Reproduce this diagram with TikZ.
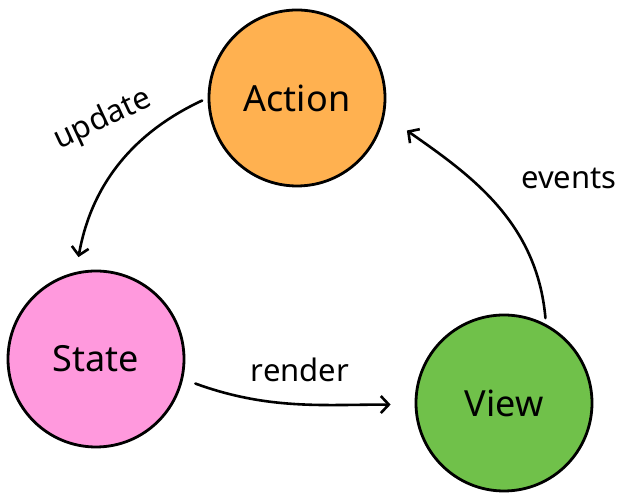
\documentclass[tikz,border=0pt]{standalone}
\usepackage{fontspec}
\setmainfont{Noto Sans}
\usetikzlibrary{arrows.meta}

\begin{document}
\begin{tikzpicture}[x=1pt,y=1pt,
  kreis/.style={circle,draw=black,line width=2.8pt,minimum size=176pt,inner sep=0pt,font=\fontsize{36}{42}\selectfont},
  pfeil/.style={->,line width=2.6pt,line cap=round},
  beschr/.style={font=\fontsize{31}{37}\selectfont},
  >={Straight Barb[length=8pt,width=17pt]}]

\useasboundingbox (0,0) rectangle (630,500);

%Kreise
\node[kreis,fill={rgb,255:red,255;green,177;blue,80}] (action) at (297,402) {Action};
\node[kreis,fill={rgb,255:red,255;green,153;blue,221}] (state) at (96,141) {State};
\node[kreis,fill={rgb,255:red,112;green,193;blue,74}] (view) at (504,97) {View};

%Pfeile
\draw[pfeil,shorten <=6pt,shorten >=15pt] (action.180) to[out=205,in=80] (state.103);
\draw[pfeil,shorten <=13pt,shorten >=24pt] (state.-13) to[out=-20,in=180] (view.181);
\draw[pfeil,shorten <=6pt,shorten >=27pt] (view.62) to[out=95,in=-35] (action.-11);

%Beschriftung
\node[beschr,rotate=25] (lupdate) at (103,380) {update};
\node[beschr] (lrender) at (300,130) {render};
\node[beschr] (levents) at (569,322) {events};

\end{tikzpicture}
\end{document}
